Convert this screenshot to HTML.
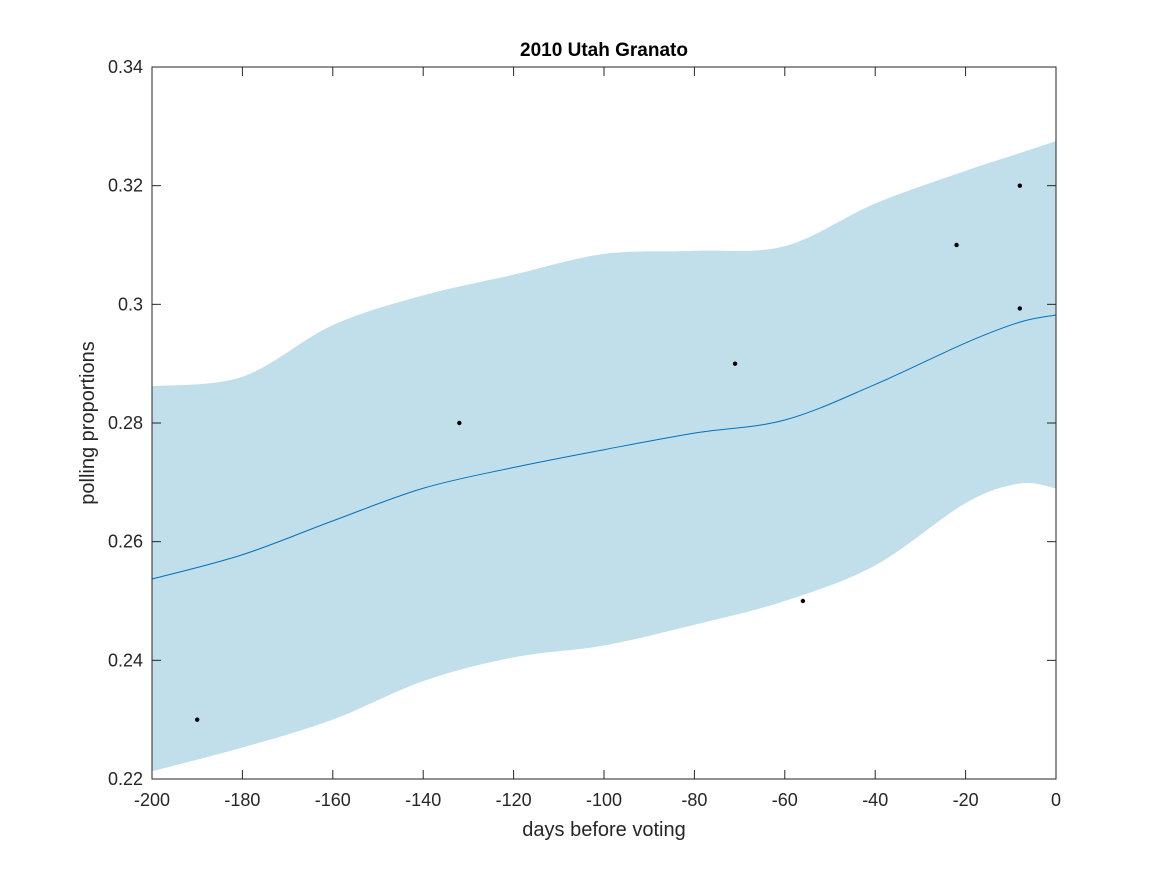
<!DOCTYPE html>
<html><head><meta charset="utf-8"><style>
html,body{margin:0;padding:0;background:#fff;}
svg{display:block;font-family:"Liberation Sans",sans-serif;}
</style></head><body>
<svg id="chart" width="1167" height="875" xmlns="http://www.w3.org/2000/svg">
<rect width="1167" height="875" fill="#fff"/>
<g id="plot"></g>
</svg>
<script>
const xTicks=[-200,-180,-160,-140,-120,-100,-80,-60,-40,-20,0];
const yTicks=[0.22,0.24,0.26,0.28,0.3,0.32,0.34];
const yTickLabels=["0.22","0.24","0.26","0.28","0.3","0.32","0.34"];
const curveX=[-200,-180,-160,-140,-120,-100,-80,-60,-40,-20,-8,0];
const meanY=[0.2537,0.2578,0.2635,0.269,0.2725,0.2755,0.2783,0.2805,0.2865,0.2935,0.297,0.2982];
const upperY=[0.2862,0.2878,0.2965,0.3015,0.305,0.3085,0.309,0.3098,0.317,0.3225,0.3255,0.3275];
const lowerY=[0.2213,0.2253,0.230,0.2365,0.2405,0.2425,0.246,0.250,0.256,0.2665,0.2698,0.269];
const pollX=[-190,-132,-71,-56,-22,-8,-8];
const pollY=[0.23,0.28,0.29,0.25,0.31,0.32,0.2993];
const L=152,R=1056,T=67,B=779;
const sx=v=>L+(v+200)/200*(R-L);
const sy=v=>B-(v-0.22)/0.12*(B-T);
const NS="http://www.w3.org/2000/svg";
const g=document.getElementById('plot');
function mk(t,a){const e=document.createElementNS(NS,t);for(const k in a)e.setAttribute(k,a[k]);g.appendChild(e);return e;}
function smooth(xs,ys){let p=[];for(let i=0;i<xs.length;i++)p.push([sx(xs[i]),sy(ys[i])]);let d="M"+p[0].join(",");
for(let i=0;i<p.length-1;i++){const p0=p[Math.max(0,i-1)],p1=p[i],p2=p[i+1],p3=p[Math.min(p.length-1,i+2)];
d+=` C${p1[0]+(p2[0]-p0[0])/6},${p1[1]+(p2[1]-p0[1])/6} ${p2[0]-(p3[0]-p1[0])/6},${p2[1]-(p3[1]-p1[1])/6} ${p2[0]},${p2[1]}`;}return d;}
let up=smooth(curveX,upperY);
let lo=smooth(curveX.slice().reverse(),lowerY.slice().reverse());
let band=mk('path',{d:up+" L"+lo.slice(1)+" Z",fill:"#c1deeb",stroke:"none"});


let ml=mk('path',{d:smooth(curveX,meanY),fill:"none",stroke:"#0072bd","stroke-width":1});


for(let i=0;i<pollX.length;i++){let c=mk('circle',{cx:sx(pollX[i]),cy:sy(pollY[i]),r:2.2,fill:"#000"});

}
let box=mk('rect',{x:L,y:T,width:R-L,height:B-T,fill:"none",stroke:"#262626","stroke-width":1});


xTicks.forEach(v=>{const x=sx(v);mk('line',{x1:x,x2:x,y1:B,y2:B-9,stroke:"#262626"});mk('line',{x1:x,x2:x,y1:T,y2:T+9,stroke:"#262626"});
let t=mk('text',{x:x,y:B+27,"text-anchor":"middle","font-size":"18",fill:"#262626"});t.textContent=String(v);

});
yTicks.forEach((v,i)=>{const y=sy(v);mk('line',{x1:L,x2:L+9,y1:y,y2:y,stroke:"#262626"});mk('line',{x1:R,x2:R-9,y1:y,y2:y,stroke:"#262626"});
let t=mk('text',{x:L-9,y:y+6,"text-anchor":"end","font-size":"18",fill:"#262626"});t.textContent=yTickLabels[i];

});
let tt=mk('text',{x:604,y:56,"text-anchor":"middle","font-size":"19","font-weight":"bold",fill:"#000"});tt.textContent="2010 Utah Granato";


let xl=mk('text',{x:604,y:836,"text-anchor":"middle","font-size":"20",fill:"#262626"});xl.textContent="days before voting";


let yl=mk('text',{x:0,y:0,"text-anchor":"middle","font-size":"20",fill:"#262626",transform:"translate(94,423) rotate(-90)"});yl.textContent="polling proportions";


</script>
</body></html>
